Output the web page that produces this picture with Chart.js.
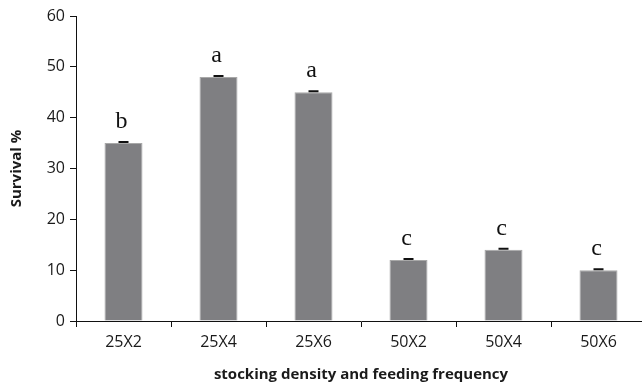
<!DOCTYPE html>
<html>
<head>
<meta charset="utf-8">
<script src="https://cdn.jsdelivr.net/npm/chart.js@4"></script>
<style>
  html, body { margin: 0; padding: 0; background: #fff; overflow: hidden; }
  #wrap { width: 646px; height: 384px; }
</style>
</head>
<body>
<div id="wrap"><canvas id="survivalChart" width="646" height="384"></canvas></div>
<script>
// data
const groups = ["25X2", "25X4", "25X6", "50X2", "50X4", "50X6"];
const survival = [35, 48, 45, 12, 14, 10];
const survivalErr = [0.2, 0.2, 0.2, 0.2, 0.2, 0.2];
const letters = ["b", "a", "a", "c", "c", "c"];
const yTicks = [0, 10, 20, 30, 40, 50, 60];

// error caps + significance letters
const markers = {
  id: "markers",
  afterDatasetsDraw(chart) {
    const ctx = chart.ctx;
    const meta = chart.getDatasetMeta(0);
    const y = chart.scales.y;
    ctx.save();
    meta.data.forEach(function (bar, i) {
      const top = y.getPixelForValue(survival[i] + survivalErr[i]);
      const base = y.getPixelForValue(survival[i]);
      ctx.strokeStyle = "#111";
      ctx.lineWidth = 2;
      ctx.beginPath();
      ctx.moveTo(bar.x, base);
      ctx.lineTo(bar.x, top);
      ctx.moveTo(bar.x - 5, top);
      ctx.lineTo(bar.x + 5, top);
      ctx.stroke();

      ctx.fillStyle = "#111";
      ctx.font = "24px 'Liberation Serif'";
      ctx.textAlign = "center";
      ctx.textBaseline = "alphabetic";
      ctx.fillText(letters[i], bar.x - 2, base - 15);
    });
    ctx.restore();
  }
};

new Chart(document.getElementById("survivalChart"), {
  type: "bar",
  data: {
    labels: groups,
    datasets: [{
      data: survival,
      backgroundColor: "#7f7f82",
      borderColor: "#a8a8a8",
      borderWidth: 1,
      barPercentage: 0.4,
      categoryPercentage: 1
    }]
  },
  options: {
    responsive: false,
    animation: false,
    layout: { padding: { top: 16, left: 0, right: 0, bottom: 0 } },
    plugins: {
      legend: { display: false },
      tooltip: { enabled: false }
    },
    scales: {
      x: {
        grid: {
          display: true,
          drawOnChartArea: false,
          tickLength: 6,
          color: "#111",
          offset: true
        },
        border: { color: "#111", width: 1 },
        ticks: {
          color: "#1a1a1a",
          font: { family: "'Open Sans'", size: 16 },
          padding: 6
        },
        title: {
          display: true,
          text: "stocking density and feeding frequency",
          color: "#1a1a1a",
          font: { family: "'Open Sans'", size: 15, weight: "bold" },
          padding: { top: 4, bottom: 0 }
        },
        afterFit(scale) { scale.height = 63; }
      },
      y: {
        min: 0,
        max: 60,
        afterBuildTicks(scale) {
          scale.ticks = yTicks.map(function (v) { return { value: v }; });
        },
        grid: {
          display: true,
          drawOnChartArea: false,
          tickLength: 6,
          color: "#111"
        },
        border: { color: "#111", width: 1 },
        ticks: {
          color: "#1a1a1a",
          font: { family: "'Open Sans'", size: 16 },
          padding: 5
        },
        title: {
          display: true,
          text: "Survival %",
          color: "#1a1a1a",
          font: { family: "'Open Sans'", size: 15, weight: "bold" },
          padding: { top: 8, bottom: 8 }
        },
        afterFit(scale) { scale.width = 76; }
      }
    }
  },
  plugins: [markers]
});
</script>
</body>
</html>
